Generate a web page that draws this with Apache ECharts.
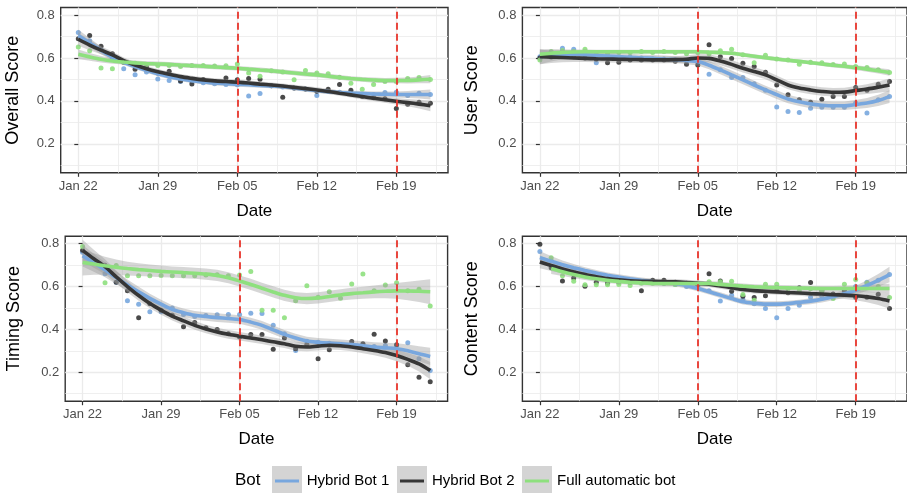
<!DOCTYPE html>
<html><head><meta charset="utf-8">
<script src="https://cdn.jsdelivr.net/npm/echarts@6/dist/echarts.min.js"></script>
<style>html,body{margin:0;padding:0;background:#fff}#c{width:907px;height:493px}</style>
</head><body><div id="c"></div>
<script>
// ---------- data ----------
const days = [0,1,2,3,4,5,6,7,8,9,10,11,12,13,14,15,16,17,18,19,20,21,22,23,24,25,26,27,28,29,30,31];
const tickDays = [0,7,14,21,28];
const tickLabels = ['Jan 22','Jan 29','Feb 05','Feb 12','Feb 19'];
const minorDays = [3.5,10.5,17.5,24.5,31.5];
const yTicks = [0.2,0.4,0.6,0.8];
const yMinor = [0.1,0.3,0.5,0.7];
const vlineDays = [14,28];
const bots = ['Hybrid Bot 1','Hybrid Bot 2','Full automatic bot'];
const panelTitles = ['Overall Score','User Score','Timing Score','Content Score'];

// Overall Score
const overallPts1 = [0.719,0.68,0.64,0.60,0.55,0.522,0.535,0.502,0.495,0.49,0.49,0.485,0.48,0.476,0.475,0.423,0.434,0.47,0.465,0.46,0.455,0.425,0.445,0.44,0.44,0.43,0.43,0.439,0.44,0.425,0.435,0.43];
const overallPts2 = [0.69,0.704,0.655,0.62,0.58,0.547,0.555,0.53,0.538,0.493,0.479,0.5,0.49,0.507,0.499,0.504,0.501,0.47,0.417,0.46,0.455,0.445,0.454,0.476,0.45,0.42,0.415,0.41,0.364,0.384,0.394,0.389];
const overallPts3 = [0.651,0.634,0.553,0.55,0.58,0.575,0.57,0.565,0.565,0.56,0.565,0.565,0.563,0.564,0.572,0.53,0.515,0.54,0.535,0.499,0.541,0.53,0.526,0.51,0.482,0.454,0.476,0.49,0.49,0.504,0.509,0.50];
const overallFit1 = [0.705,0.67,0.635,0.603,0.58,0.56,0.542,0.526,0.513,0.502,0.494,0.488,0.483,0.48,0.477,0.475,0.472,0.47,0.466,0.46,0.454,0.448,0.443,0.439,0.436,0.434,0.432,0.431,0.43,0.43,0.43,0.43];
const overallFit2 = [0.687,0.66,0.636,0.614,0.588,0.567,0.55,0.536,0.524,0.513,0.505,0.498,0.493,0.49,0.487,0.483,0.478,0.474,0.469,0.463,0.457,0.451,0.444,0.436,0.428,0.42,0.412,0.405,0.398,0.392,0.385,0.377];
const overallFit3 = [0.617,0.605,0.594,0.586,0.581,0.577,0.574,0.572,0.57,0.567,0.564,0.561,0.558,0.555,0.552,0.548,0.544,0.54,0.535,0.53,0.525,0.521,0.515,0.509,0.504,0.5,0.497,0.495,0.495,0.495,0.498,0.501];
const overallSe1 = [0.028,0.022,0.018,0.015,0.013,0.012,0.011,0.011,0.011,0.011,0.011,0.011,0.011,0.011,0.011,0.011,0.011,0.011,0.011,0.011,0.011,0.011,0.011,0.011,0.011,0.012,0.012,0.013,0.014,0.016,0.019,0.023];
const overallSe2 = [0.03,0.024,0.019,0.016,0.014,0.013,0.012,0.012,0.012,0.012,0.012,0.012,0.012,0.012,0.012,0.012,0.012,0.012,0.012,0.012,0.012,0.012,0.012,0.012,0.012,0.013,0.013,0.014,0.015,0.017,0.02,0.025];
const overallSe3 = [0.022,0.018,0.015,0.013,0.012,0.011,0.011,0.011,0.011,0.011,0.011,0.011,0.011,0.011,0.011,0.011,0.011,0.011,0.011,0.011,0.011,0.011,0.011,0.011,0.011,0.011,0.012,0.012,0.013,0.014,0.016,0.019];

// User Score
const userPts1 = [0.606,0.62,0.645,0.64,0.615,0.578,0.6,0.6,0.605,0.6,0.595,0.595,0.59,0.585,0.58,0.524,0.545,0.509,0.509,0.48,0.45,0.372,0.35,0.346,0.366,0.37,0.37,0.37,0.39,0.343,0.405,0.42];
const userPts2 = [0.6,0.605,0.61,0.606,0.6,0.595,0.578,0.58,0.59,0.59,0.59,0.59,0.585,0.571,0.567,0.662,0.606,0.598,0.575,0.56,0.533,0.474,0.428,0.405,0.394,0.408,0.42,0.42,0.462,0.45,0.478,0.49];
const userPts3 = [0.591,0.63,0.635,0.63,0.64,0.625,0.62,0.625,0.625,0.63,0.625,0.63,0.625,0.62,0.625,0.62,0.633,0.64,0.615,0.578,0.612,0.595,0.59,0.571,0.58,0.578,0.57,0.572,0.56,0.555,0.545,0.532];
const userFit1 = [0.606,0.612,0.616,0.617,0.615,0.612,0.609,0.606,0.603,0.6,0.598,0.595,0.592,0.588,0.583,0.566,0.544,0.521,0.498,0.474,0.451,0.429,0.409,0.396,0.386,0.38,0.377,0.377,0.383,0.39,0.402,0.42];
const userFit2 = [0.606,0.604,0.602,0.6,0.598,0.596,0.595,0.594,0.593,0.592,0.591,0.591,0.592,0.594,0.6,0.598,0.586,0.57,0.552,0.537,0.521,0.498,0.474,0.46,0.451,0.444,0.44,0.441,0.448,0.455,0.464,0.474];
const userFit3 = [0.617,0.622,0.626,0.628,0.629,0.629,0.629,0.629,0.629,0.629,0.629,0.629,0.629,0.629,0.629,0.627,0.625,0.622,0.615,0.608,0.601,0.595,0.589,0.584,0.578,0.572,0.566,0.561,0.555,0.548,0.54,0.532];
const userSe1 = [0.035,0.028,0.022,0.019,0.017,0.016,0.016,0.016,0.016,0.016,0.016,0.016,0.016,0.017,0.018,0.019,0.02,0.02,0.02,0.02,0.02,0.02,0.02,0.02,0.02,0.02,0.02,0.02,0.021,0.023,0.026,0.03];
const userSe2 = [0.035,0.028,0.022,0.019,0.017,0.016,0.016,0.016,0.016,0.016,0.016,0.016,0.016,0.017,0.018,0.019,0.02,0.02,0.02,0.02,0.02,0.02,0.02,0.02,0.02,0.02,0.02,0.02,0.021,0.023,0.026,0.03];
const userSe3 = [0.02,0.016,0.013,0.011,0.01,0.009,0.009,0.009,0.009,0.009,0.009,0.009,0.009,0.009,0.009,0.009,0.009,0.009,0.009,0.009,0.009,0.009,0.009,0.009,0.009,0.009,0.01,0.01,0.011,0.012,0.013,0.015];

// Timing Score
const timingPts1 = [0.76,0.71,0.66,0.62,0.534,0.518,0.482,0.482,0.5,0.47,0.46,0.465,0.469,0.47,0.47,0.476,0.474,0.42,0.38,0.302,0.345,0.34,0.335,0.33,0.335,0.33,0.32,0.325,0.325,0.338,0.263,0.208];
const timingPts2 = [0.769,0.72,0.70,0.62,0.58,0.454,0.52,0.49,0.466,0.412,0.432,0.408,0.4,0.38,0.365,0.376,0.376,0.307,0.36,0.31,0.33,0.263,0.305,0.33,0.344,0.333,0.377,0.346,0.328,0.235,0.177,0.156];
const timingPts3 = [0.787,0.72,0.618,0.698,0.651,0.651,0.651,0.652,0.65,0.651,0.65,0.654,0.655,0.651,0.654,0.67,0.49,0.49,0.455,0.534,0.604,0.55,0.576,0.545,0.612,0.659,0.58,0.607,0.618,0.58,0.587,0.509];
const timingFit1 = [0.744,0.711,0.678,0.642,0.607,0.575,0.545,0.518,0.493,0.478,0.466,0.46,0.455,0.451,0.446,0.434,0.419,0.398,0.377,0.36,0.346,0.34,0.336,0.333,0.329,0.324,0.318,0.314,0.31,0.3,0.286,0.274];
const timingFit2 = [0.769,0.73,0.693,0.645,0.6,0.558,0.521,0.49,0.462,0.44,0.419,0.402,0.388,0.377,0.368,0.36,0.352,0.342,0.333,0.321,0.318,0.322,0.326,0.324,0.318,0.31,0.302,0.292,0.278,0.26,0.239,0.208];
const timingFit3 = [0.712,0.705,0.697,0.69,0.684,0.679,0.675,0.671,0.668,0.665,0.662,0.658,0.652,0.641,0.626,0.61,0.592,0.575,0.559,0.548,0.544,0.547,0.554,0.561,0.567,0.571,0.575,0.578,0.58,0.579,0.578,0.576];
const timingSe1 = [0.05,0.042,0.035,0.03,0.026,0.024,0.022,0.021,0.02,0.02,0.02,0.02,0.02,0.02,0.02,0.02,0.02,0.02,0.02,0.02,0.02,0.02,0.02,0.02,0.02,0.021,0.022,0.024,0.026,0.03,0.035,0.04];
const timingSe2 = [0.05,0.042,0.035,0.03,0.026,0.024,0.022,0.021,0.02,0.02,0.02,0.02,0.02,0.02,0.02,0.02,0.02,0.02,0.02,0.02,0.02,0.02,0.02,0.02,0.02,0.021,0.022,0.024,0.026,0.03,0.035,0.04];
const timingSe3 = [0.06,0.05,0.042,0.036,0.032,0.03,0.028,0.027,0.026,0.026,0.026,0.026,0.026,0.026,0.026,0.026,0.026,0.026,0.026,0.026,0.026,0.026,0.026,0.026,0.027,0.028,0.03,0.033,0.037,0.043,0.05,0.058];

// Content Score
const contentPts1 = [0.764,0.72,0.68,0.67,0.66,0.65,0.64,0.635,0.625,0.62,0.62,0.615,0.61,0.6,0.6,0.58,0.533,0.56,0.54,0.52,0.498,0.454,0.498,0.513,0.55,0.555,0.56,0.58,0.6,0.62,0.63,0.656];
const contentPts2 = [0.797,0.688,0.626,0.64,0.601,0.62,0.615,0.62,0.62,0.58,0.629,0.629,0.62,0.615,0.61,0.66,0.626,0.578,0.555,0.549,0.557,0.58,0.571,0.594,0.619,0.58,0.565,0.58,0.55,0.55,0.564,0.498];
const contentPts3 = [null,0.735,0.65,0.625,0.609,0.609,0.609,0.61,0.605,0.615,0.615,0.615,0.61,0.61,0.615,0.622,0.622,0.625,0.563,0.536,0.611,0.611,0.59,0.58,0.59,0.58,0.544,0.611,0.633,0.617,0.6,0.549];
const contentFit1 = [0.735,0.718,0.702,0.688,0.675,0.663,0.653,0.644,0.636,0.629,0.623,0.618,0.614,0.604,0.591,0.576,0.56,0.544,0.529,0.522,0.518,0.518,0.521,0.526,0.532,0.541,0.552,0.566,0.583,0.605,0.629,0.656];
const contentFit2 = [0.715,0.698,0.682,0.668,0.656,0.646,0.637,0.631,0.627,0.625,0.624,0.623,0.622,0.619,0.615,0.611,0.603,0.595,0.586,0.581,0.578,0.575,0.572,0.57,0.567,0.565,0.562,0.56,0.557,0.552,0.544,0.533];
const contentFit3 = [null,0.684,0.669,0.656,0.645,0.636,0.629,0.624,0.62,0.617,0.615,0.614,0.614,0.614,0.614,0.614,0.61,0.606,0.602,0.599,0.597,0.595,0.594,0.593,0.592,0.591,0.591,0.591,0.591,0.591,0.591,0.591];
const contentSe1 = [0.03,0.025,0.02,0.017,0.015,0.014,0.013,0.013,0.013,0.013,0.013,0.013,0.013,0.013,0.013,0.013,0.013,0.013,0.013,0.013,0.013,0.013,0.013,0.013,0.014,0.015,0.016,0.018,0.021,0.025,0.03,0.036];
const contentSe2 = [0.03,0.025,0.02,0.017,0.015,0.014,0.013,0.013,0.013,0.013,0.013,0.013,0.013,0.013,0.013,0.013,0.013,0.013,0.013,0.013,0.013,0.013,0.013,0.013,0.014,0.015,0.016,0.018,0.021,0.025,0.03,0.036];
const contentSe3 = [null,0.025,0.02,0.016,0.014,0.013,0.012,0.012,0.012,0.012,0.012,0.012,0.012,0.012,0.012,0.012,0.012,0.012,0.012,0.012,0.012,0.012,0.012,0.012,0.012,0.013,0.013,0.014,0.015,0.017,0.019,0.022];

// ---------- assembly ----------
const panels = [
  {pts:[overallPts1,overallPts2,overallPts3], fit:[overallFit1,overallFit2,overallFit3], se:[overallSe1,overallSe2,overallSe3]},
  {pts:[userPts1,userPts2,userPts3], fit:[userFit1,userFit2,userFit3], se:[userSe1,userSe2,userSe3]},
  {pts:[timingPts1,timingPts2,timingPts3], fit:[timingFit1,timingFit2,timingFit3], se:[timingSe1,timingSe2,timingSe3]},
  {pts:[contentPts1,contentPts2,contentPts3], fit:[contentFit1,contentFit2,contentFit3], se:[contentSe1,contentSe2,contentSe3]}
];
const colors = ['#78a7de','#363636','#8ee07e'];
const grids = [
  {left:60.7, top:7.5, width:387.3, height:165.3, nameGap:39},
  {left:522.4, top:7.5, width:387.2, height:165.3, nameGap:41},
  {left:65.2, top:236.2, width:382.4, height:165, nameGap:42},
  {left:522.4, top:236.2, width:387.2, height:165, nameGap:41}
];
const FONT = 'Liberation Sans, Arial, Helvetica, sans-serif';
const XMIN = -1.55, XMAX = 32.55, YMIN = 0.065, YMAX = 0.835;
const gridLineColor = '#ebebeb';

const option = {
  animation:false,
  backgroundColor:'#ffffff',
  grid: grids.map(g => ({left:g.left, top:g.top, width:g.width, height:g.height, show:true, borderColor:'#333333', borderWidth:1.4, backgroundColor:'#ffffff', containLabel:false})),
  xAxis: [], yAxis: [], series: [],
  graphic: []
};

grids.forEach((g, p) => {
  option.xAxis.push({
    type:'value', gridIndex:p, min:XMIN, max:XMAX, position:'bottom',
    name:'Date', nameLocation:'middle', nameGap:30,
    nameTextStyle:{fontFamily:FONT, fontSize:17, color:'#000'},
    axisLine:{show:false},
    axisTick:{show:true, length:4, lineStyle:{color:'#333333', width:1.2}, customValues:tickDays},
    axisLabel:{show:true, customValues:tickDays, margin:7, fontFamily:FONT, fontSize:13, color:'#4d4d4d',
      formatter:v => { const i = tickDays.indexOf(Math.round(v)); return i >= 0 ? tickLabels[i] : ''; }},
    splitLine:{show:true, lineStyle:{color:gridLineColor, width:1.3}}
  });
  option.xAxis.push({
    type:'value', gridIndex:p, min:XMIN, max:XMAX, position:'top',
    axisLine:{show:false}, axisTick:{show:false, customValues:minorDays}, axisLabel:{show:false, customValues:minorDays},
    splitLine:{show:true, lineStyle:{color:gridLineColor, width:0.8}}
  });
  option.yAxis.push({
    type:'value', gridIndex:p, min:YMIN, max:YMAX, position:'left',
    name:panelTitles[p], nameLocation:'middle', nameGap:g.nameGap,
    nameTextStyle:{fontFamily:FONT, fontSize:18, color:'#000'},
    axisLine:{show:false},
    axisTick:{show:true, length:4, lineStyle:{color:'#333333', width:1.2}, customValues:yTicks},
    axisLabel:{show:true, customValues:yTicks, margin:6, fontFamily:FONT, fontSize:13, color:'#4d4d4d',
      formatter:v => v.toFixed(1)},
    splitLine:{show:true, lineStyle:{color:gridLineColor, width:1.3}}
  });
  option.yAxis.push({
    type:'value', gridIndex:p, min:YMIN, max:YMAX, position:'right',
    axisLine:{show:false}, axisTick:{show:false, customValues:yMinor}, axisLabel:{show:false, customValues:yMinor},
    splitLine:{show:true, lineStyle:{color:gridLineColor, width:0.8}}
  });
  const xi = p*2, yi = p*2;
  option.series.push({
    type:'line', xAxisIndex:xi, yAxisIndex:yi, data:[], z:1, silent:true,
    markLine:{silent:true, symbol:['none','none'], label:{show:false}, animation:false,
      lineStyle:{color:'#e8352c', type:[7,4], width:1.8},
      data: vlineDays.map(d => ({xAxis:d}))}
  });
  const P = panels[p];
  for (let b = 0; b < 3; b++) {
    option.series.push({
      type:'scatter', name:bots[b], xAxisIndex:xi, yAxisIndex:yi, z:2, silent:true,
      symbolSize:5, itemStyle:{color:colors[b], opacity:0.9},
      data: days.map((d,i) => [d, P.pts[b][i]]).filter(q => q[1] != null)
    });
  }
  for (let b = 0; b < 3; b++) {
    const band = days.map((d,i) => P.fit[b][i] == null ? null : [d, +(P.fit[b][i] - P.se[b][i]).toFixed(4), +(P.fit[b][i] + P.se[b][i]).toFixed(4)]).filter(q => q);
    option.series.push({
      type:'custom', xAxisIndex:xi, yAxisIndex:yi, z:3, silent:true, clip:true,
      data: band,
      encode:{x:0, y:[1,2]},
      renderItem:(params, api) => {
        if (params.dataIndex !== 0) return null;
        const upper = band.map(q => api.coord([q[0], q[2]]));
        const lower = band.map(q => api.coord([q[0], q[1]])).reverse();
        return {type:'polygon', shape:{points: upper.concat(lower)}, style:{fill:'rgba(153,153,153,0.4)'}};
      }
    });
  }
  for (let b = 0; b < 3; b++) {
    option.series.push({
      type:'line', name:bots[b], xAxisIndex:xi, yAxisIndex:yi, z:4, silent:true, symbol:'none', smooth:0.3,
      lineStyle:{color:colors[b], width:3.6},
      data: days.map((d,i) => [d, P.fit[b][i]]).filter(q => q[1] != null)
    });
  }
});

const legendKeys = [{x:272, tx:306.7},{x:397, tx:432},{x:522, tx:557}];
option.graphic.push({type:'text', left:235, top:472, style:{text:'Bot', fontFamily:FONT, fontSize:17, fill:'#000'}});
bots.forEach((name, b) => {
  const k = legendKeys[b];
  option.graphic.push({type:'rect', shape:{x:k.x, y:466, width:30, height:28}, style:{fill:'#d4d4d4'}});
  option.graphic.push({type:'line', shape:{x1:k.x+3, y1:481, x2:k.x+27, y2:481}, style:{stroke:colors[b], lineWidth:3}});
  option.graphic.push({type:'text', left:k.tx, top:473, style:{text:name, fontFamily:FONT, fontSize:15, fill:'#000'}});
});

const chart = echarts.init(document.getElementById('c'), null, {renderer:'canvas'});
chart.setOption(option);
</script>
</body></html>
